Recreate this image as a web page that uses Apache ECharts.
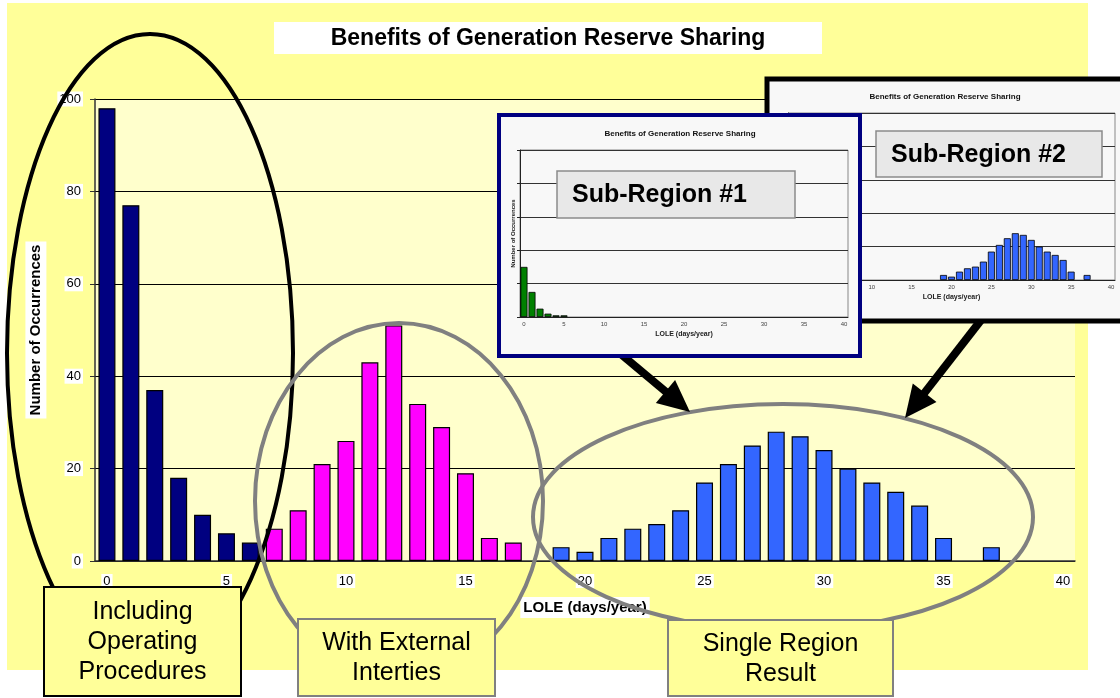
<!DOCTYPE html>
<html>
<head>
<meta charset="utf-8">
<script src="https://cdn.jsdelivr.net/npm/echarts@6/dist/echarts.min.js"></script>
<style>
html, body { margin: 0; padding: 0; background: #fff; }
#chart { width: 1120px; height: 698px; }
</style>
</head>
<body>
<div id="chart"></div>
<script>
// LOLE bins (days/year)
var loleDays = ['0','1','2','3','4','5','6','7','8','9','10','11','12','13','14','15','16','17','18','19','20',
	'21','22','23','24','25','26','27','28','29','30','31','32','33','34','35','36','37','38','39','40'];
var yTicks = [0, 20, 40, 60, 80, 100];

// main chart, three groups of bars (first bin + counts)
var opProcStart = 0;
var opProcCounts = [98, 77, 37, 18, 10, 6, 4];
var intertieStart = 7;
var intertieCounts = [7, 11, 21, 26, 43, 51, 34, 29, 19, 5, 4];
var singleStart = 19;
var singleCounts = [3, 2, 5, 7, 8, 11, 17, 21, 25, 28, 27, 24, 20, 17, 15, 12, 5, null, 3];

// small inset charts
var sub1Start = 0;
var sub1Counts = [30, 15, 5, 2, 1, 1];
var sub2Start = 19;
var sub2Counts = [3, 2, 5, 7, 8, 11, 17, 21, 25, 28, 27, 24, 20, 17, 15, 12, 5, null, 3];

var FONT = '"Liberation Sans", Arial, sans-serif';
var TITLE = 'Benefits of Generation Reserve Sharing';

function toPairs(start, vals) {
	return vals.map(function (v, i) { return [start + i, v]; });
}

// arrow = shaft + head, drawn from start point to tip
function arrow(x1, y1, x2, y2) {
	var dx = x2 - x1, dy = y2 - y1;
	var len = Math.sqrt(dx * dx + dy * dy);
	var ux = dx / len, uy = dy / len;
	var bx = x2 - 32 * ux, by = y2 - 32 * uy;
	var px = -uy * 15, py = ux * 15;
	return [
		{ type: 'line', z: 55, shape: { x1: x1, y1: y1, x2: bx + 4 * ux, y2: by + 4 * uy },
			style: { stroke: '#000', lineWidth: 8 } },
		{ type: 'polygon', z: 55, shape: { points: [[x2, y2], [bx + px, by + py], [bx - px, by - py]] },
			style: { fill: '#000' } }
	];
}

function callout(x, y, w, h, text, border) {
	return [
		{ type: 'rect', z: 60, shape: { x: x, y: y, width: w, height: h },
			style: { fill: '#FFFF99', stroke: border, lineWidth: 2 } },
		{ type: 'text', z: 61, x: x + w / 2, y: y + h / 2 + 1,
			style: { text: text, font: '25px ' + FONT, fill: '#000', lineHeight: 30,
				align: 'center', verticalAlign: 'middle' } }
	];
}

function insetTexts(zl, cx, titleY, boxX, boxY, boxW, boxH, label) {
	return [
		{ type: 'text', zlevel: zl, z: 20, x: cx, y: titleY,
			style: { text: TITLE, font: 'bold 8px ' + FONT, fill: '#111', align: 'center', verticalAlign: 'middle' } },
		{ type: 'rect', zlevel: zl, z: 20, shape: { x: boxX, y: boxY, width: boxW, height: boxH },
			style: { fill: '#E8E8E8', stroke: '#8a8a8a', lineWidth: 1.5 } },
		{ type: 'text', zlevel: zl, z: 21, x: boxX + 15, y: boxY + boxH / 2 + 1,
			style: { text: label, font: 'bold 25px ' + FONT, fill: '#000', verticalAlign: 'middle' } }
	];
}

var graphics = [
	{ type: 'rect', z: -10, shape: { x: 7, y: 3, width: 1081, height: 667 }, style: { fill: '#FFFF99' } },
	{ type: 'rect', z: -5, shape: { x: 274, y: 22, width: 548, height: 32 }, style: { fill: '#fff' } },
	{ type: 'text', z: -4, x: 548, y: 39,
		style: { text: TITLE, font: 'bold 23px ' + FONT, fill: '#000', align: 'center', verticalAlign: 'middle' } },
	// ellipses
	{ type: 'ellipse', z: 50, shape: { cx: 150, cy: 353, rx: 143, ry: 319 },
		style: { fill: 'none', stroke: '#000', lineWidth: 4 } },
	{ type: 'ellipse', z: 50, shape: { cx: 399, cy: 501, rx: 144, ry: 178 },
		style: { fill: 'none', stroke: '#808080', lineWidth: 4 } },
	{ type: 'ellipse', z: 50, shape: { cx: 783, cy: 517, rx: 250, ry: 113 },
		style: { fill: 'none', stroke: '#808080', lineWidth: 4 } },
	// inset frames
	{ type: 'rect', zlevel: 1, z: -1, shape: { x: 767, y: 79, width: 372, height: 242 },
		style: { fill: '#F8F8F8', stroke: '#000', lineWidth: 5 } },
	{ type: 'rect', zlevel: 2, z: -1, shape: { x: 499, y: 115, width: 361, height: 241 },
		style: { fill: '#F8F8F8', stroke: '#000080', lineWidth: 4 } }
];
graphics = graphics.concat(
	callout(44, 587, 197, 109, 'Including\nOperating\nProcedures', '#000'),
	callout(298, 619, 197, 77, 'With External\nInterties', '#808080'),
	callout(668, 620, 225, 76, 'Single Region\nResult', '#808080'));
graphics = graphics.concat(arrow(610, 345, 690, 412), arrow(985, 315, 905, 418));
graphics = graphics.concat(insetTexts(1, 945, 97, 876, 131, 226, 46, 'Sub-Region #2'));
graphics = graphics.concat(insetTexts(2, 680, 134, 557, 171, 238, 47, 'Sub-Region #1'));

function insetX(grid, zl, nameY) {
	return {
		type: 'category', gridIndex: grid, zlevel: zl, data: loleDays, boundaryGap: true,
		axisLine: { lineStyle: { color: '#222', width: 1 } },
		axisTick: { interval: 0, length: 2, lineStyle: { color: '#222' } },
		axisLabel: { interval: 4, fontSize: 6, color: '#444', margin: 4, fontFamily: FONT },
		name: 'LOLE (days/year)', nameLocation: 'middle', nameGap: nameY,
		nameTextStyle: { fontSize: 7, fontWeight: 'bold', color: '#222', fontFamily: FONT }
	};
}
function insetY(grid, zl) {
	return {
		type: 'value', gridIndex: grid, zlevel: zl, min: 0, max: 100, interval: 20,
		axisLine: { show: true, lineStyle: { color: '#222' } },
		axisTick: { show: true, length: 3, lineStyle: { color: '#222' } },
		axisLabel: { show: false },
		splitLine: { lineStyle: { color: '#333', width: 1 } },
		name: 'Number of Occurrences', nameLocation: 'middle', nameGap: 4, nameRotate: 90,
		nameTextStyle: { fontSize: 6, fontWeight: 'bold', color: '#222', fontFamily: FONT }
	};
}

var mainBar = {
	type: 'bar', xAxisIndex: 0, yAxisIndex: 0, barWidth: 17, barGap: '-100%'
};

var option = {
	backgroundColor: '#fff',
	animation: false,
	textStyle: { fontFamily: FONT },
	graphic: { elements: graphics },
	grid: [
		{ left: 95, top: 99, width: 980, height: 462, show: true, backgroundColor: '#FFFFCC', borderWidth: 0 },
		{ left: 788, top: 113, width: 327, height: 167, show: true, zlevel: 1,
			backgroundColor: '#F8F8F8', borderColor: '#888', borderWidth: 1 },
		{ left: 520, top: 150, width: 328, height: 167, show: true, zlevel: 2,
			backgroundColor: '#F8F8F8', borderColor: '#888', borderWidth: 1 }
	],
	xAxis: [
		{
			type: 'category', gridIndex: 0, data: loleDays, boundaryGap: true,
			axisLine: { lineStyle: { color: '#333', width: 1.5 } },
			axisTick: { interval: 0, length: 5, lineStyle: { color: '#333' } },
			axisLabel: { interval: 4, fontSize: 13, color: '#000', margin: 13, backgroundColor: '#fff',
				padding: [1, 2, 0, 2], fontFamily: FONT },
			name: 'LOLE (days/year)', nameLocation: 'middle', nameGap: 36,
			nameTextStyle: { fontSize: 15, fontWeight: 'bold', color: '#000', backgroundColor: '#fff',
				padding: [3, 3], fontFamily: FONT }
		},
		insetX(1, 1, 14),
		insetX(2, 2, 14)
	],
	yAxis: [
		{
			type: 'value', gridIndex: 0, min: yTicks[0], max: yTicks[yTicks.length - 1], interval: 20,
			axisLine: { show: true, lineStyle: { color: '#333', width: 1.5 } },
			axisTick: { show: true, length: 5, lineStyle: { color: '#333' } },
			axisLabel: { fontSize: 13, color: '#000', margin: 12, backgroundColor: '#fff', padding: [1, 2],
				fontFamily: FONT },
			splitLine: { lineStyle: { color: '#000', width: 1 } },
			name: 'Number of Occurrences', nameLocation: 'middle', nameGap: 47, nameRotate: 90,
			nameTextStyle: { fontSize: 15, fontWeight: 'bold', color: '#000', backgroundColor: '#fff',
				padding: [3, 3], fontFamily: FONT }
		},
		insetY(1, 1),
		insetY(2, 2)
	],
	series: [
		Object.assign({}, mainBar, { name: 'Including Operating Procedures', data: toPairs(opProcStart, opProcCounts),
			itemStyle: { color: '#000080', borderColor: '#000', borderWidth: 1.2 } }),
		Object.assign({}, mainBar, { name: 'With External Interties', data: toPairs(intertieStart, intertieCounts),
			itemStyle: { color: '#FF00FF', borderColor: '#000', borderWidth: 1.2 } }),
		Object.assign({}, mainBar, { name: 'Single Region Result', data: toPairs(singleStart, singleCounts),
			itemStyle: { color: '#3366FF', borderColor: '#000', borderWidth: 1.2 } }),
		{ type: 'bar', name: 'Sub-Region #2', xAxisIndex: 1, yAxisIndex: 1, zlevel: 1, barWidth: 7,
			data: toPairs(sub2Start, sub2Counts),
			itemStyle: { color: '#3366FF', borderColor: '#000', borderWidth: 0.8 } },
		{ type: 'bar', name: 'Sub-Region #1', xAxisIndex: 2, yAxisIndex: 2, zlevel: 2, barWidth: 7,
			data: toPairs(sub1Start, sub1Counts),
			itemStyle: { color: '#008000', borderColor: '#000', borderWidth: 0.8 } }
	]
};

var mychart = echarts.init(document.getElementById('chart'));
mychart.setOption(option);
</script>
</body>
</html>
